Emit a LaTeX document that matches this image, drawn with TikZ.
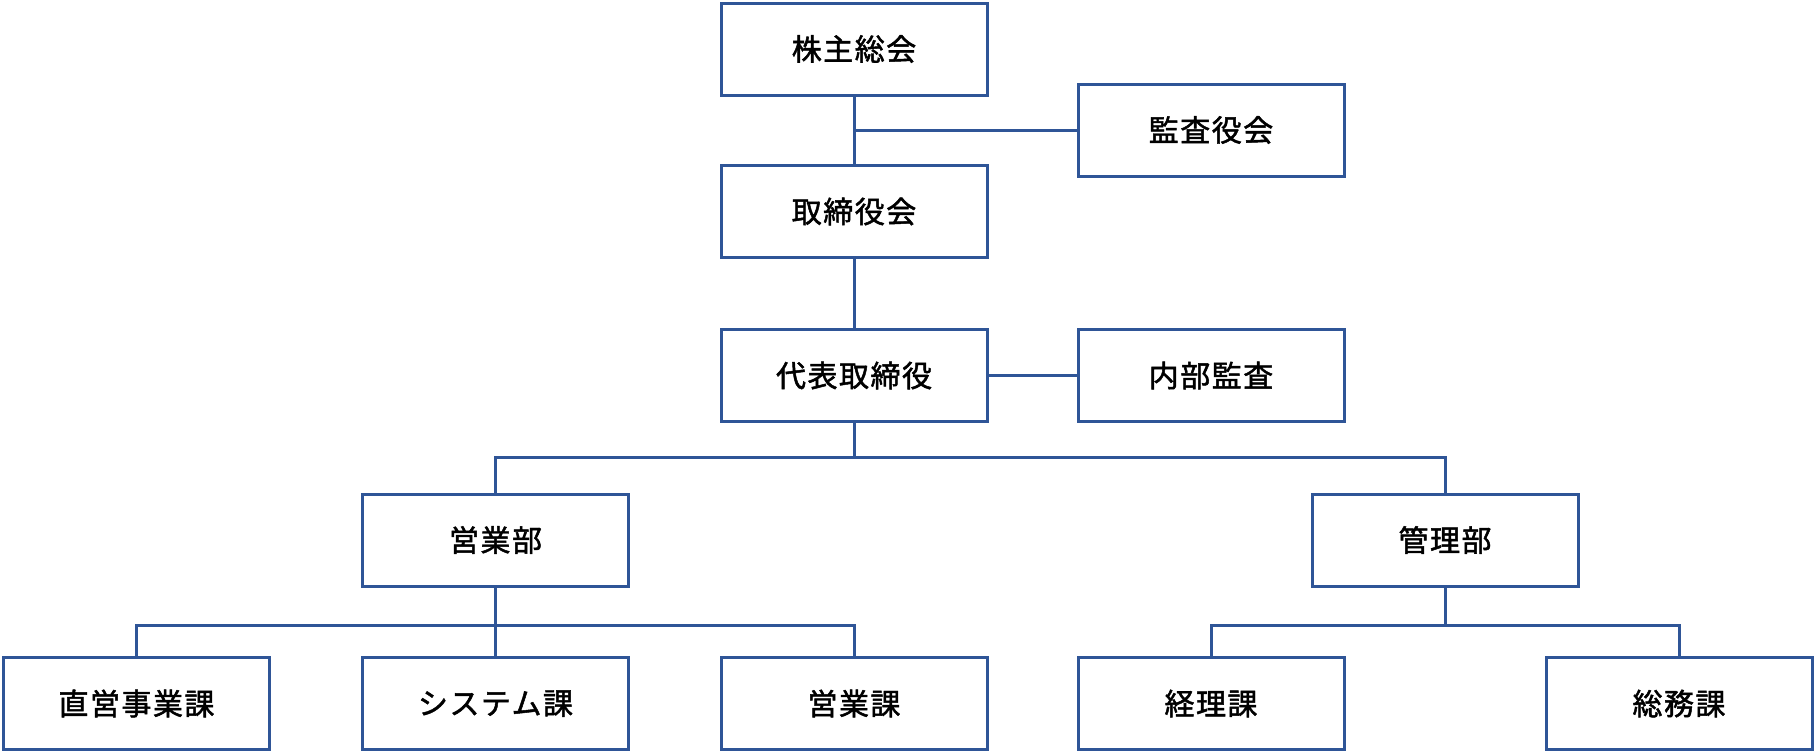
\documentclass[tikz,border=0pt]{standalone}
\usepackage{fontspec}
\newfontfamily\jpfont[LetterSpace=5,FakeBold=1.6]{Noto Sans CJK JP}
\definecolor{orgblue}{RGB}{47,85,151}
\tikzset{
  orgbox/.style={draw=orgblue, line width=1.5pt, fill=white, rectangle,
    minimum width=133pt, minimum height=46pt, inner sep=0pt,
    font=\jpfont\fontsize{15pt}{17pt}\selectfont, text=black},
  orgline/.style={draw=orgblue, line width=1.5pt}
}
\begin{document}
\begin{tikzpicture}[x=0.5pt, y=-0.5pt]
\useasboundingbox (0,0) rectangle (1814,752);
% row 1-3
\node[orgbox] (kabu) at (854,49) {株主総会};
\node[orgbox] (kansa) at (1211,130) {監査役会};
\node[orgbox] (torishimari) at (854,211.5) {取締役会};
\node[orgbox] (daihyo) at (854,375.5) {代表取締役};
\node[orgbox] (naibu) at (1211,375.5) {内部監査};
% row 4
\node[orgbox] (eigyobu) at (495.5,540) {営業部};
\node[orgbox] (kanribu) at (1445,540) {管理部};
% row 5
\node[orgbox] (chokuei) at (136.5,703.5) {直営事業課};
\node[orgbox] (system) at (495.5,703.5) {システム課};
\node[orgbox] (eigyoka) at (854,703.5) {営業課};
\node[orgbox] (keiri) at (1211,703.5) {経理課};
\node[orgbox] (somu) at (1679,703.5) {総務課};
% bus coordinates
\coordinate (bus1) at (854,457);
\coordinate (bus2) at (495.5,625);
\coordinate (bus3) at (1445,625);
% connectors
\draw[orgline] (kabu.south) -- (torishimari.north);
\draw[orgline] (kansa.west) -- (kansa.west -| kabu.south);
\draw[orgline] (torishimari.south) -- (daihyo.north);
\draw[orgline] (daihyo.east) -- (naibu.west);
\draw[orgline] (daihyo.south) -- (bus1);
\draw[orgline] (eigyobu.north) |- (bus1) -| (kanribu.north);
\draw[orgline] (eigyobu.south) -- (system.north);
\draw[orgline] (chokuei.north) |- (bus2) -| (eigyoka.north);
\draw[orgline] (kanribu.south) -- (bus3);
\draw[orgline] (keiri.north) |- (bus3) -| (somu.north);
\end{tikzpicture}
\end{document}
